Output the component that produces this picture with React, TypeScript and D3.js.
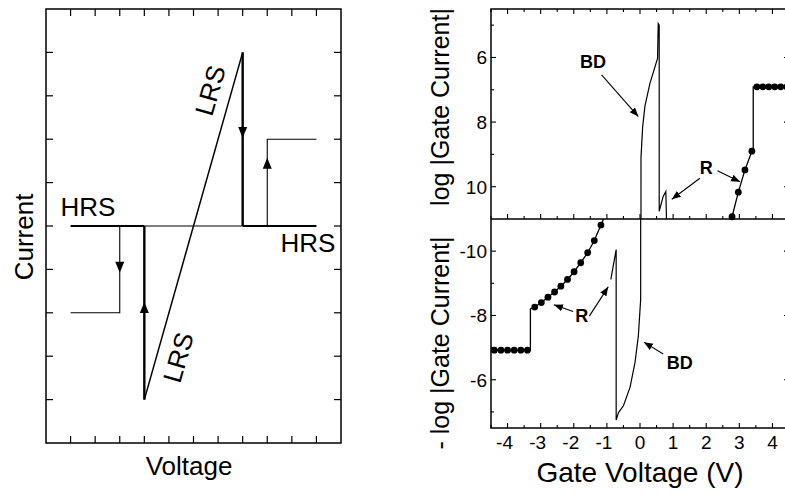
import React, { useEffect, useRef } from 'react';
import * as d3 from 'd3';

type Pt = [number, number];

// ---- left panel: schematic I-V loop (arbitrary units, x 0..12, y 0..10)
const hrsThickSegs: Pt[][] = [
  [[1, 5], [4, 5]],
  [[8, 5], [11, 5]],
];
const hrsThinSeg: Pt[] = [[4, 5], [8, 5]];
const setJumps: Pt[][] = [
  [[4, 5], [4, 1]],
  [[8, 9], [8, 5]],
];
const lrsLine: Pt[] = [[4, 1], [8, 9]];
const stepPos: Pt[] = [[9, 5], [9, 7], [11, 7]];
const stepNeg: Pt[] = [[3, 5], [3, 3], [1, 3]];
const loopArrows = [
  { x: 8, y: 7.03, dir: 'down' },
  { x: 9, y: 6.57, dir: 'up' },
  { x: 3, y: 3.92, dir: 'down' },
  { x: 4, y: 3.25, dir: 'up' },
];

// ---- right panel: measured gate current
const xTicks = [-4, -3, -2, -1, 0, 1, 2, 3, 4];
const topTicks = [6, 8, 10];
const botTicks = [-10, -8, -6];

const bdTop: Pt[] = [
  [0.03, 11], [0.03, 9.1], [0.08, 8.15], [0.15, 7.5], [0.3, 6.8], [0.53, 6.03],
  [0.55, 4.95], [0.58, 5.0], [0.58, 10.76], [0.7, 10.3], [0.78, 10.15], [0.8, 11],
];
const rTopDots: Pt[] = [[2.78, 10.93], [2.97, 10.17], [3.17, 9.48], [3.38, 8.9]];
const rTopFlat: Pt[] = [[3.53, 6.91], [3.71, 6.91], [3.89, 6.91], [4.07, 6.91], [4.25, 6.91], [4.43, 6.91], [4.61, 6.91]];

const bdBot: Pt[] = [
  [0.02, -11], [0.02, -8.5], [-0.05, -7.36], [-0.15, -6.54], [-0.3, -5.77], [-0.5, -5.19],
  [-0.65, -4.98], [-0.72, -4.75], [-0.72, -10.05], [-0.88, -9.12],
];
const rBotDots: Pt[] = [
  [-1.18, -10.81], [-1.38, -10.33], [-1.58, -9.95], [-1.79, -9.64], [-1.99, -9.36], [-2.19, -9.12],
  [-2.39, -8.91], [-2.58, -8.73], [-2.78, -8.57], [-2.98, -8.4], [-3.18, -8.26],
];
const rBotFlat: Pt[] = [[-3.4, -6.92], [-3.6, -6.92], [-3.8, -6.92], [-4.0, -6.92], [-4.2, -6.92], [-4.4, -6.92]];

// annotations: label position + arrows (from, to) in data coords
const topNotes = [
  { text: 'BD', at: [-1.42, 6.14], arrows: [[[-1.16, 6.54], [-0.05, 7.83]]] },
  { text: 'R', at: [2.0, 9.42], arrows: [[[1.81, 9.74], [0.96, 10.39]], [[2.34, 9.51], [3.02, 9.85]]] },
];
const botNotes = [
  { text: 'R', at: [-1.76, -8.01], arrows: [[[-2.02, -8.12], [-2.6, -8.33]], [[-1.53, -7.98], [-0.96, -8.89]]] },
  { text: 'BD', at: [1.2, -6.55], arrows: [[[0.7, -6.8], [0.12, -7.17]]] },
];

const FONT = 'Liberation Sans, Arial, Helvetica, sans-serif';

const App = () => {
  const ref = useRef<SVGSVGElement>(null);

  useEffect(() => {
    const svg = d3.select(ref.current);
    svg.selectAll('*').remove();

    svg
      .append('defs')
      .append('marker')
      .attr('id', 'ah')
      .attr('viewBox', '0 0 10 10')
      .attr('refX', 10)
      .attr('refY', 5)
      .attr('markerWidth', 9)
      .attr('markerHeight', 9)
      .attr('markerUnits', 'userSpaceOnUse')
      .attr('orient', 'auto')
      .append('path')
      .attr('d', 'M0,1 L10,5 L0,9 Z')
      .attr('fill', '#000');

    // ================= left panel =================
    const lx = d3.scaleLinear().domain([0, 12]).range([46, 341]);
    const ly = d3.scaleLinear().domain([0, 10]).range([443, 9]);
    const L = svg.append('g');
    const lline = d3.line<Pt>().x((d) => lx(d[0])).y((d) => ly(d[1]));

    L.append('rect')
      .attr('x', lx(0)).attr('y', ly(10))
      .attr('width', lx(12) - lx(0)).attr('height', ly(0) - ly(10))
      .attr('fill', 'none').attr('stroke', '#000').attr('stroke-width', 1.5);

    d3.range(1, 12).forEach((t) => {
      L.append('line').attr('x1', lx(t)).attr('x2', lx(t)).attr('y1', ly(0)).attr('y2', ly(0) - 7).attr('stroke', '#000').attr('stroke-width', 1.2);
      L.append('line').attr('x1', lx(t)).attr('x2', lx(t)).attr('y1', ly(10)).attr('y2', ly(10) + 7).attr('stroke', '#000').attr('stroke-width', 1.2);
    });
    d3.range(1, 10).forEach((t) => {
      L.append('line').attr('x1', lx(0)).attr('x2', lx(0) + 7).attr('y1', ly(t)).attr('y2', ly(t)).attr('stroke', '#000').attr('stroke-width', 1.2);
      L.append('line').attr('x1', lx(12)).attr('x2', lx(12) - 7).attr('y1', ly(t)).attr('y2', ly(t)).attr('stroke', '#000').attr('stroke-width', 1.2);
    });

    hrsThickSegs.forEach((s) => L.append('path').attr('d', lline(s)).attr('fill', 'none').attr('stroke', '#000').attr('stroke-width', 2.2));
    L.append('path').attr('d', lline(hrsThinSeg)).attr('fill', 'none').attr('stroke', '#000').attr('stroke-width', 1.1);
    setJumps.forEach((s) => L.append('path').attr('d', lline(s)).attr('fill', 'none').attr('stroke', '#000').attr('stroke-width', 2.4));
    L.append('path').attr('d', lline(lrsLine)).attr('fill', 'none').attr('stroke', '#000').attr('stroke-width', 1.5);
    [stepPos, stepNeg].forEach((s) => L.append('path').attr('d', lline(s)).attr('fill', 'none').attr('stroke', '#000').attr('stroke-width', 1.1));

    loopArrows.forEach((a) => {
      const cx = lx(a.x);
      const ty = ly(a.y);
      const h = a.dir === 'down' ? -11 : 11;
      L.append('path').attr('d', `M${cx},${ty} L${cx - 4.5},${ty + h} L${cx + 4.5},${ty + h} Z`).attr('fill', '#000');
    });

    const ltext = (s: string, x: number, y: number, size: number, rot = 0) =>
      L.append('text')
        .attr('transform', `translate(${x},${y}) rotate(${rot})`)
        .attr('text-anchor', 'middle')
        .attr('font-family', FONT)
        .attr('font-size', size)
        .text(s);

    ltext('HRS', 88, 216, 26);
    ltext('HRS', 308, 252, 26);
    const ang = (Math.atan2(ly(lrsLine[1][1]) - ly(lrsLine[0][1]), lx(lrsLine[1][0]) - lx(lrsLine[0][0])) * 180) / Math.PI;
    ltext('LRS', 219, 93, 26, ang);
    ltext('LRS', 187, 360, 26, ang);
    ltext('Current', 33, 237, 26, -90);
    ltext('Voltage', 189, 475, 26);

    // ================= right panel =================
    const rx = d3.scaleLinear().domain([-4.5, 4.5]).range([491, 789]);
    const ryT = d3.scaleLinear().domain([4.5, 11]).range([9, 219]);
    const ryB = d3.scaleLinear().domain([-11, -4.5]).range([219, 428]);
    const R = svg.append('g');
    const stroke = (sel: any, w = 1.5) => sel.attr('stroke', '#000').attr('stroke-width', w).attr('fill', 'none');

    stroke(R.append('rect').attr('x', rx(-4.5)).attr('y', ryT(4.5)).attr('width', rx(4.5) - rx(-4.5)).attr('height', ryB(-4.5) - ryT(4.5)));
    stroke(R.append('line').attr('x1', rx(-4.5)).attr('x2', rx(4.5)).attr('y1', ryT(11)).attr('y2', ryT(11)));

    // x ticks (top, divider, bottom)
    d3.range(-4.5, 4.51, 0.5).forEach((v) => {
      const major = Math.abs(v - Math.round(v)) < 1e-6;
      const len = major ? 5 : 3;
      const x = rx(v);
      stroke(R.append('line').attr('x1', x).attr('x2', x).attr('y1', ryB(-4.5)).attr('y2', ryB(-4.5) - len), 1.1);
      stroke(R.append('line').attr('x1', x).attr('x2', x).attr('y1', ryT(4.5)).attr('y2', ryT(4.5) + len), 1.1);
      stroke(R.append('line').attr('x1', x).attr('x2', x).attr('y1', ryT(11)).attr('y2', ryT(11) - len), 1.1);
    });
    xTicks.forEach((v) => {
      R.append('text').attr('x', rx(v) - (v < 0 ? 3 : 0)).attr('y', 449).attr('text-anchor', 'middle')
        .attr('font-family', FONT).attr('font-size', 19).text(String(v));
    });

    // y ticks
    const yTickSet = (scale: any, majors: number[], minors: number[]) => {
      majors.forEach((v) => {
        stroke(R.append('line').attr('x1', rx(-4.5)).attr('x2', rx(-4.5) + 5).attr('y1', scale(v)).attr('y2', scale(v)), 1.1);
        stroke(R.append('line').attr('x1', rx(4.5)).attr('x2', rx(4.5) - 5).attr('y1', scale(v)).attr('y2', scale(v)), 1.1);
        R.append('text').attr('x', rx(-4.5) - 4).attr('y', scale(v) + 7).attr('text-anchor', 'end')
          .attr('font-family', FONT).attr('font-size', 19).text(String(v));
      });
      minors.forEach((v) => {
        stroke(R.append('line').attr('x1', rx(-4.5)).attr('x2', rx(-4.5) + 3).attr('y1', scale(v)).attr('y2', scale(v)), 1.1);
      });
    };
    yTickSet(ryT, topTicks, [5, 7, 9]);
    yTickSet(ryB, botTicks, [-9, -7, -5]);

    const lineT = d3.line<Pt>().x((d) => rx(d[0])).y((d) => ryT(d[1]));
    const lineB = d3.line<Pt>().x((d) => rx(d[0])).y((d) => ryB(d[1]));

    stroke(R.append('path').attr('d', lineT(bdTop)), 1.2);
    stroke(R.append('path').attr('d', lineB(bdBot)), 1.2);

    const rTopPath: Pt[] = [...rTopDots, [3.42, 8.9], [3.42, 6.91], ...rTopFlat];
    stroke(R.append('path').attr('d', lineT(rTopPath)), 1.3);
    const rBotPath: Pt[] = [[-1.1, -11], ...rBotDots, [-3.31, -8.2], [-3.31, -6.92], ...rBotFlat];
    stroke(R.append('path').attr('d', lineB(rBotPath)), 1.3);

    R.selectAll('.dt').data([...rTopDots, ...rTopFlat]).enter().append('circle')
      .attr('cx', (d: Pt) => rx(d[0])).attr('cy', (d: Pt) => ryT(d[1])).attr('r', 3.4).attr('fill', '#000');
    R.selectAll('.db').data([...rBotDots, ...rBotFlat]).enter().append('circle')
      .attr('cx', (d: Pt) => rx(d[0])).attr('cy', (d: Pt) => ryB(d[1])).attr('r', 3.4).attr('fill', '#000');

    const notes = (list: any[], ys: any) => {
      list.forEach((n) => {
        R.append('text').attr('x', rx(n.at[0])).attr('y', ys(n.at[1]) + 6.5).attr('text-anchor', 'middle')
          .attr('font-family', FONT).attr('font-weight', 'bold').attr('font-size', 18).text(n.text);
        n.arrows.forEach((a: Pt[]) => {
          R.append('line').attr('x1', rx(a[0][0])).attr('y1', ys(a[0][1])).attr('x2', rx(a[1][0])).attr('y2', ys(a[1][1]))
            .attr('stroke', '#000').attr('stroke-width', 1.1).attr('marker-end', 'url(#ah)');
        });
      });
    };
    notes(topNotes, ryT);
    notes(botNotes, ryB);

    R.append('text').attr('transform', 'translate(449,107) rotate(-90)').attr('text-anchor', 'middle')
      .attr('font-family', FONT).attr('font-size', 25).text('log |Gate Current|');
    R.append('text').attr('transform', 'translate(449,343) rotate(-90)').attr('text-anchor', 'middle')
      .attr('font-family', FONT).attr('font-size', 25).text('- log |Gate Current|');
    R.append('text').attr('x', 640).attr('y', 482).attr('text-anchor', 'middle')
      .attr('font-family', FONT).attr('font-size', 28).text('Gate Voltage (V)');
  }, []);

  return (
    <svg
      ref={ref}
      width={785}
      height={495}
      style={{ position: 'absolute', left: 0, top: 0, background: '#fff' }}
    />
  );
};

export default App;
